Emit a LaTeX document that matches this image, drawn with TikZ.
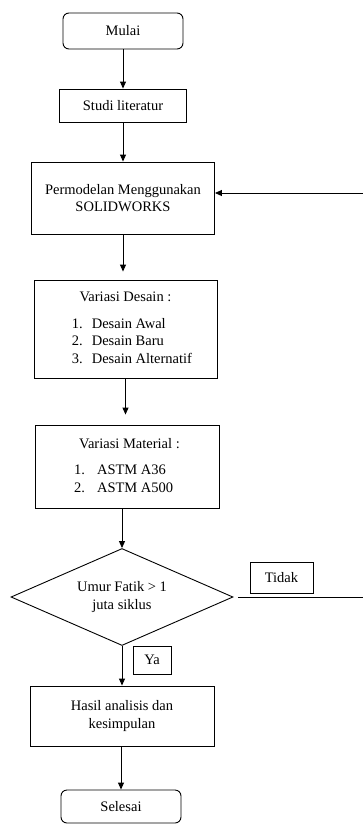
\documentclass[tikz,border=0pt]{standalone}
\usepackage{fontspec}
\setmainfont{Liberation Serif}
\usetikzlibrary{shapes.geometric, positioning, arrows.meta}

\begin{document}
\begin{tikzpicture}[x=1pt, y=1pt, font=\fontsize{14.5}{17.5}\selectfont,
    oterminal/.style={draw, rounded corners=6pt, minimum width=120pt, minimum height=36pt, line width=0.9pt},
    oprocess/.style={draw, minimum width=183pt, line width=0.9pt, align=center},
    odecision/.style={draw, diamond, aspect=2.3, inner sep=0pt, minimum width=222pt, minimum height=97pt, align=center, line width=0.9pt},
    olabel/.style={draw, line width=0.9pt, inner sep=0pt},
    arrow/.style={-{Triangle[width=6pt, length=7pt]}, line width=0.9pt},
    ]

    \useasboundingbox (0,0) rectangle (363,-825);

    \coordinate (c1) at (363,-597);
    \coordinate (c2) at (363,-193);

    \node(mulai)[oterminal] at (123,-31){Mulai};
    \node(studi)[oprocess, below of = mulai, node distance=74.5pt, minimum width=127pt, minimum height=33pt]{Studi literatur};
    \node(model)[oprocess, below of = studi, node distance=92.5pt, minimum height=72pt]{Permodelan Menggunakan\\SOLIDWORKS};
    \node(desain)[oprocess, below of = model, node distance=131pt, xshift=2.5pt, minimum height=98pt]{%
        \begin{tabular}{@{\hspace{13pt}}l@{\hspace{9pt}}l@{}}
        \multicolumn{2}{@{}c@{}}{Variasi Desain :}\\[9pt]
        1. & Desain Awal\\
        2. & Desain Baru\\
        3. & Desain Alternatif
        \end{tabular}};
    \node(material)[oprocess, below of = desain, node distance=137.5pt, xshift=1.5pt, minimum width=184pt, minimum height=83pt]{%
        \begin{tabular}{@{}l@{\hspace{12pt}}l@{}}
        \multicolumn{2}{@{\hspace{5pt}}c@{}}{Variasi Material :}\\[9pt]
        1. & ASTM A36\\
        2. & ASTM A500
        \end{tabular}};
    \node(keputusan)[odecision, below of = material, node distance=130.5pt, xshift=-5pt]{Umur Fatik > 1\\juta siklus};
    \node(tidak)[olabel, right of = keputusan, node distance=159.5pt, yshift=19.5pt, minimum width=63pt, minimum height=31pt]{Tidak};
    \node(ya)[olabel, below of = keputusan, node distance=63pt, xshift=30pt, minimum width=38pt, minimum height=28pt]{Ya};
    \node(hasil)[oprocess, below of = keputusan, node distance=119pt, minimum width=184pt, minimum height=60pt]{Hasil analisis dan\\kesimpulan};
    \node(selesai)[oterminal, below of = hasil, node distance=90.5pt, xshift=-1pt, minimum height=33pt]{Selesai};

    \draw[arrow](mulai) -- (studi);
    \draw[arrow](studi) -- (model);
    \draw[arrow, shorten >=8pt](model.south) -- (model.south |- desain.north);
    \draw[arrow, shorten >=10pt](desain.south) -- (desain.south |- material.north);
    \draw[arrow](material.south -| keputusan.north) -- (keputusan.north);
    \draw[arrow](keputusan.south) -- (hasil);
    \draw[arrow](hasil.south -| selesai.north) -- (selesai.north);
    \draw[arrow, shorten <=5pt](keputusan.east) -- (c1) -- (c2) -- (c2 -| model.east);

\end{tikzpicture}
\end{document}
